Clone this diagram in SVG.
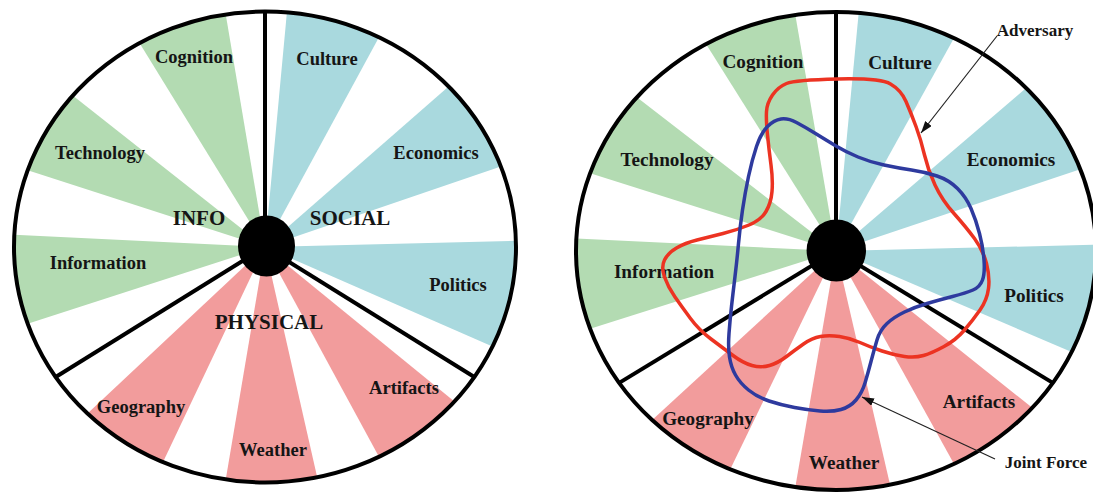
<svg xmlns="http://www.w3.org/2000/svg" width="1093" height="499" viewBox="0 0 1093 499">
  <style>
    .info { fill: #b3dbb2; }
    .social { fill: #a9d9de; }
    .physical { fill: #f29c9c; }
    .rim { fill: none; stroke: #000; stroke-width: 4; }
    .divider { stroke: #000; stroke-width: 4; stroke-linecap: butt; }
    .hub { fill: #000; }
    .label { font-family: "Liberation Serif", "Times New Roman", serif; font-weight: bold; font-size: 18.5px; fill: #151515; text-anchor: middle; }
    .label-r { font-size: 19.2px; }
    .domain { font-size: 21px; }
    .note { font-size: 17px; }
    .adversary { fill: none; stroke: #ec3322; stroke-width: 3.5; stroke-linejoin: round; }
    .joint { fill: none; stroke: #2e3a9e; stroke-width: 3.5; stroke-linejoin: round; }
    .pointer { stroke: #222; stroke-width: 1.2; fill: none; }
  </style>
  <defs>
    <!-- wedge sets drawn on a unit circle; each wheel scales them to its own radii -->
    <g id="wedges-info" class="info">
      <path d="M0,0 L-0.9455,0.3256 A1,1 0 0 1 -0.9986,-0.0523 Z"/>
      <path d="M0,0 L-0.9455,-0.3256 A1,1 0 0 1 -0.7660,-0.6428 Z"/>
      <path d="M0,0 L-0.5,-0.8660 A1,1 0 0 1 -0.1564,-0.9877 Z"/>
    </g>
    <g id="wedges-social" class="social">
      <path d="M0,0 L0.0872,-0.9962 A1,1 0 0 1 0.4540,-0.8910 Z"/>
      <path d="M0,0 L0.7314,-0.6820 A1,1 0 0 1 0.9397,-0.3420 Z"/>
      <path d="M0,0 L0.9997,-0.0262 A1,1 0 0 1 0.9063,0.4226 Z"/>
    </g>
    <g id="wedges-physical" class="physical">
      <path d="M0,0 L0.7547,0.6561 A1,1 0 0 1 0.4540,0.8910 Z"/>
      <path d="M0,0 L0.2079,0.9781 A1,1 0 0 1 -0.1564,0.9877 Z"/>
      <path d="M0,0 L-0.4067,0.9135 A1,1 0 0 1 -0.7071,0.7071 Z"/>
    </g>
    <marker id="arrowhead" viewBox="0 0 12 8" refX="12" refY="4" markerWidth="12" markerHeight="8" markerUnits="userSpaceOnUse" orient="auto">
      <path d="M0,0 L12,4 L0,8 Z" fill="#111"/>
    </marker>
  </defs>

  <rect width="1093" height="499" fill="#fff"/>

  <!-- left wheel: domains only -->
  <g id="wheel-left">
    <g transform="translate(265,247) scale(251,235.5)">
      <use href="#wedges-info"/>
      <use href="#wedges-social"/>
      <use href="#wedges-physical"/>
    </g>
    <ellipse class="rim" cx="265" cy="247" rx="251" ry="235.5"/>
    <line class="divider" x1="265" y1="247" x2="265" y2="11.5"/>
    <line class="divider" x1="265" y1="247" x2="474.3" y2="377"/>
    <line class="divider" x1="265" y1="247" x2="55.7" y2="377"/>
    <ellipse class="hub" cx="266.5" cy="246" rx="28.5" ry="30.5"/>
  </g>
  <g id="labels-left">
    <text class="label" x="194" y="63">Cognition</text>
    <text class="label" x="327" y="65">Culture</text>
    <text class="label" x="100" y="159">Technology</text>
    <text class="label" x="436" y="159">Economics</text>
    <text class="label domain" x="199" y="225">INFO</text>
    <text class="label domain" x="350" y="225">SOCIAL</text>
    <text class="label" x="98" y="269">Information</text>
    <text class="label" x="458" y="291">Politics</text>
    <text class="label domain" x="269" y="329">PHYSICAL</text>
    <text class="label" x="141" y="413">Geography</text>
    <text class="label" x="404" y="394">Artifacts</text>
    <text class="label" x="273" y="456">Weather</text>
  </g>

  <!-- right wheel: domains with the two force profiles -->
  <g id="wheel-right">
    <g transform="translate(836,251) scale(260,239)">
      <use href="#wedges-info"/>
      <use href="#wedges-social"/>
      <use href="#wedges-physical"/>
    </g>
    <ellipse class="rim" cx="836" cy="251" rx="260" ry="239"/>
    <line class="divider" x1="836" y1="251" x2="836" y2="12"/>
    <line class="divider" x1="836" y1="251" x2="1052.8" y2="382.9"/>
    <line class="divider" x1="836" y1="251" x2="619.2" y2="382.9"/>
    <ellipse class="hub" cx="836.3" cy="250.5" rx="29.7" ry="31"/>
  </g>
  <g id="labels-right">
    <text class="label label-r" x="763" y="68">Cognition</text>
    <text class="label label-r" x="900" y="69">Culture</text>
    <text class="label label-r" x="667" y="166">Technology</text>
    <text class="label label-r" x="1011" y="166">Economics</text>
    <text class="label label-r" x="664" y="278">Information</text>
    <text class="label label-r" x="1034" y="302">Politics</text>
    <text class="label label-r" x="708" y="425">Geography</text>
    <text class="label label-r" x="979" y="408">Artifacts</text>
    <text class="label label-r" x="844" y="469">Weather</text>
  </g>

  <g id="profile-adversary">
    <path class="adversary" d="M766.5,111.5 Q767,103 772.5,95 Q778,87 786.5,83.5 Q795,80 837.5,79 Q880,78 890.5,84 Q901,90 906,101.5 Q911,113 916,126.5 Q921,140 924.5,155 Q928,170 935,185 Q942,200 954,213.5 Q966,227 974.5,238.5 Q983,250 986.5,263.5 Q990,277 988.5,288.5 Q987,300 980,310 Q973,320 964.5,330 Q956,340 944,346.5 Q932,353 923.5,355.5 Q915,358 904.5,356.5 Q894,355 882,351 Q870,347 860,342.5 Q850,338 839.5,336.5 Q829,335 820.5,336.5 Q812,338 803.5,344 Q795,350 786.5,356.5 Q778,363 769.5,365.5 Q761,368 752,365.5 Q743,363 733,355.5 Q723,348 711,339 Q699,330 690.5,318.5 Q682,307 675,297 Q668,287 664.5,277 Q661,267 664.5,260 Q668,253 676.5,248 Q685,243 697,240 Q709,237 723,233.5 Q737,230 749,225 Q761,220 766,211.5 Q771,203 772,191.5 Q773,180 771,165 Q769,150 767.5,135 Q766,120 766.5,111.5 Z"/>
  </g>
  <g id="profile-joint-force">
    <path class="joint" d="M767.5,126.5 Q774,120 781,119 Q788,118 796.5,122.5 Q805,127 815.5,133.5 Q826,140 836,146 Q846,152 858,157 Q870,162 884,165 Q898,168 911.5,170 Q925,172 937,176 Q949,180 957.5,188.5 Q966,197 971,208.5 Q976,220 979.5,233.5 Q983,247 984,260 Q985,273 982.5,280 Q980,287 973,290 Q966,293 952.5,296.5 Q939,300 927,303.5 Q915,307 904.5,312 Q894,317 887,323.5 Q880,330 877,340 Q874,350 871,361.5 Q868,373 865,383 Q862,393 856,400 Q850,407 841,409.5 Q832,412 820,411 Q808,410 794.5,407.5 Q781,405 769,401 Q757,397 748.5,390 Q740,383 735.5,375 Q731,367 729.5,357 Q728,347 729,333.5 Q730,320 731.5,306.5 Q733,293 735,276.5 Q737,260 738.5,243.5 Q740,227 742.5,210 Q745,193 748.5,176.5 Q752,160 756.5,146.5 Q761,133 767.5,126.5 Z"/>
  </g>

  <g id="connectors">
    <line class="pointer" x1="997" y1="36" x2="921" y2="133" marker-end="url(#arrowhead)"/>
    <line class="pointer" x1="995" y1="459" x2="862" y2="397" marker-end="url(#arrowhead)"/>
  </g>
  <g id="callouts">
    <text class="label note" x="1035" y="36">Adversary</text>
    <text class="label note" x="1046" y="468">Joint Force</text>
  </g>
</svg>
